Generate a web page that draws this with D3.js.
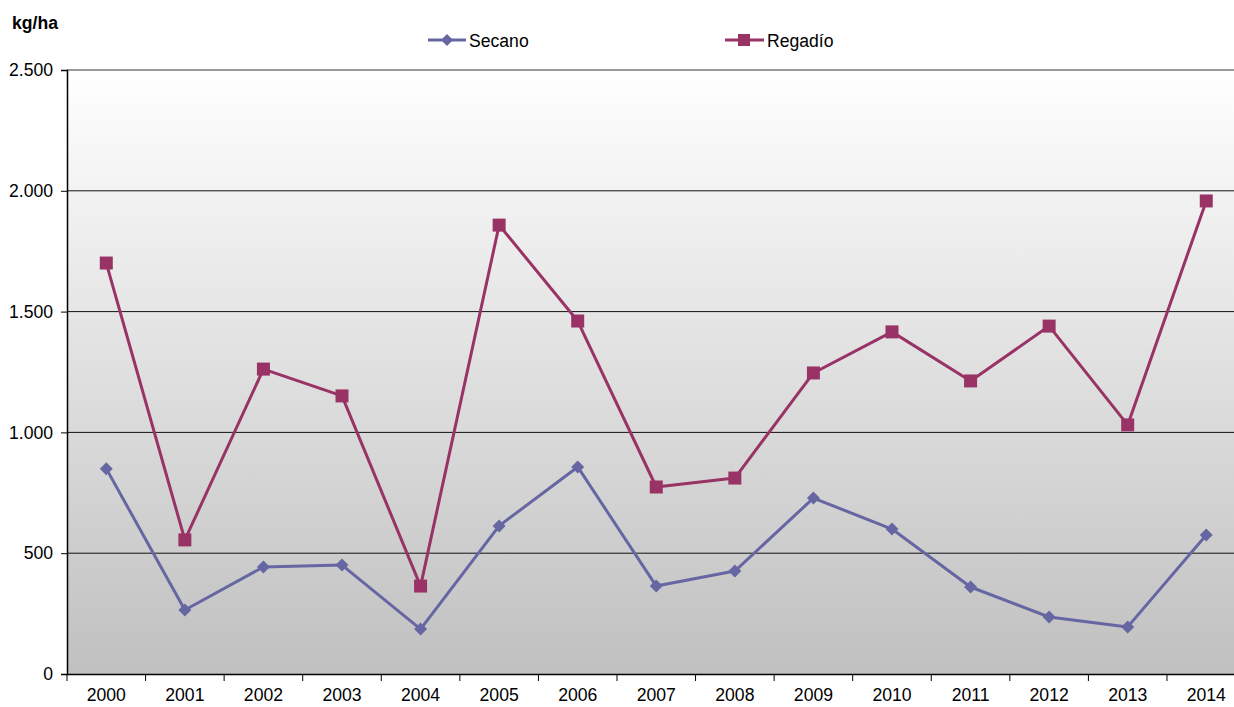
<!DOCTYPE html>
<html><head><meta charset="utf-8">
<script src="https://cdn.jsdelivr.net/npm/d3@7"></script>
<style>body{margin:0;background:#fff}svg{display:block;font-family:"Liberation Sans",Arial,sans-serif}</style>
</head><body><svg id="c" width="1234" height="707"></svg>
<script>
const years = ["2000","2001","2002","2003","2004","2005","2006","2007","2008","2009","2010","2011","2012","2013","2014"];
const secano = [850,265,443,451,186,613,857,364,426,728,600,360,236,195,575];
const regadio = [1701,555,1262,1151,364,1858,1461,774,811,1246,1416,1213,1440,1031,1958];
const yTicks = [0,500,1000,1500,2000,2500];
const yLabels = ["0","500","1.000","1.500","2.000","2.500"];

const svg = d3.select("#c");
const L = 67, R = 67 + 15*78.57, T = 70, B = 674;
const x = d3.scaleBand().domain(years).range([L, R]).padding(0);
const y = d3.scaleLinear().domain([0,2500]).range([B, T]);
const FS = 17.6;

const defs = svg.append("defs");
const g = defs.append("linearGradient").attr("id","bg").attr("x1",0).attr("y1",0).attr("x2",0).attr("y2",1);
g.append("stop").attr("offset","0%").attr("stop-color","#ffffff");
g.append("stop").attr("offset","100%").attr("stop-color","#c0c0c0");
svg.append("rect").attr("x",L).attr("y",T).attr("width",R-L).attr("height",B-T).attr("fill","url(#bg)");

// gridlines
svg.append("g").selectAll("line").data(yTicks.slice(1)).join("line")
  .attr("x1",L).attr("x2",R).attr("y1",d=>y(d)).attr("y2",d=>y(d))
  .attr("stroke",(d)=>d===2500?"#7a7a7a":"#111").attr("stroke-width",d=>d===2500?1.5:1);

// y axis
const ya = svg.append("g").attr("transform",`translate(${L},0)`)
  .call(d3.axisLeft(y).tickValues(yTicks).tickFormat((d,i)=>yLabels[i]).tickSize(6).tickPadding(8));
ya.select(".domain").attr("stroke","#000").attr("stroke-width",1.5);
ya.selectAll(".tick line").attr("stroke","#000");
ya.selectAll("text").attr("font-size",FS).attr("fill","#000").attr("font-family","Liberation Sans, Arial, sans-serif");

// x axis
const xa = svg.append("g").attr("transform",`translate(0,${B})`)
  .call(d3.axisBottom(x).tickSize(0).tickPadding(15));
xa.select(".domain").attr("stroke","#000").attr("stroke-width",1.5);
xa.selectAll("text").attr("font-size",FS).attr("fill","#000").attr("font-family","Liberation Sans, Arial, sans-serif");
// category boundary ticks
svg.append("g").selectAll("line").data(years).join("line")
  .attr("x1",d=>x(d)).attr("x2",d=>x(d)).attr("y1",B).attr("y2",B+7).attr("stroke","#000");

const cx = d => x(d) + x.bandwidth()/2;
const cSec = "#6666a3", cReg = "#993366";

function series(vals, color, shape){
  svg.append("path").datum(vals)
    .attr("d", d3.line().x((d,i)=>cx(years[i])).y(d=>y(d)))
    .attr("fill","none").attr("stroke",color).attr("stroke-width",3).attr("stroke-linejoin","round");
  svg.append("g").selectAll("path").data(vals).join("path")
    .attr("transform",(d,i)=>`translate(${cx(years[i])},${y(d)})`)
    .attr("d", shape==="sq" ? "M-6.5,-6.5H6.5V6.5H-6.5Z" : "M0,-6.5L6.5,0L0,6.5L-6.5,0Z")
    .attr("fill",color);
}
series(secano, cSec, "di");
series(regadio, cReg, "sq");

// legend
const lg = svg.append("g").attr("font-size",FS);
lg.append("line").attr("x1",428).attr("x2",466).attr("y1",40).attr("y2",40).attr("stroke",cSec).attr("stroke-width",3);
lg.append("path").attr("transform","translate(447,40)").attr("d","M0,-6L6,0L0,6L-6,0Z").attr("fill",cSec);
lg.append("text").attr("x",469).attr("y",46.5).text("Secano");
lg.append("line").attr("x1",725).attr("x2",764).attr("y1",40).attr("y2",40).attr("stroke",cReg).attr("stroke-width",3);
lg.append("path").attr("transform","translate(744,40)").attr("d","M-6,-6H6V6H-6Z").attr("fill",cReg);
lg.append("text").attr("x",767).attr("y",46.5).text("Regadío");

svg.append("text").attr("x",12).attr("y",29).attr("font-size",FS).attr("font-weight","bold").text("kg/ha");
</script></body></html>
